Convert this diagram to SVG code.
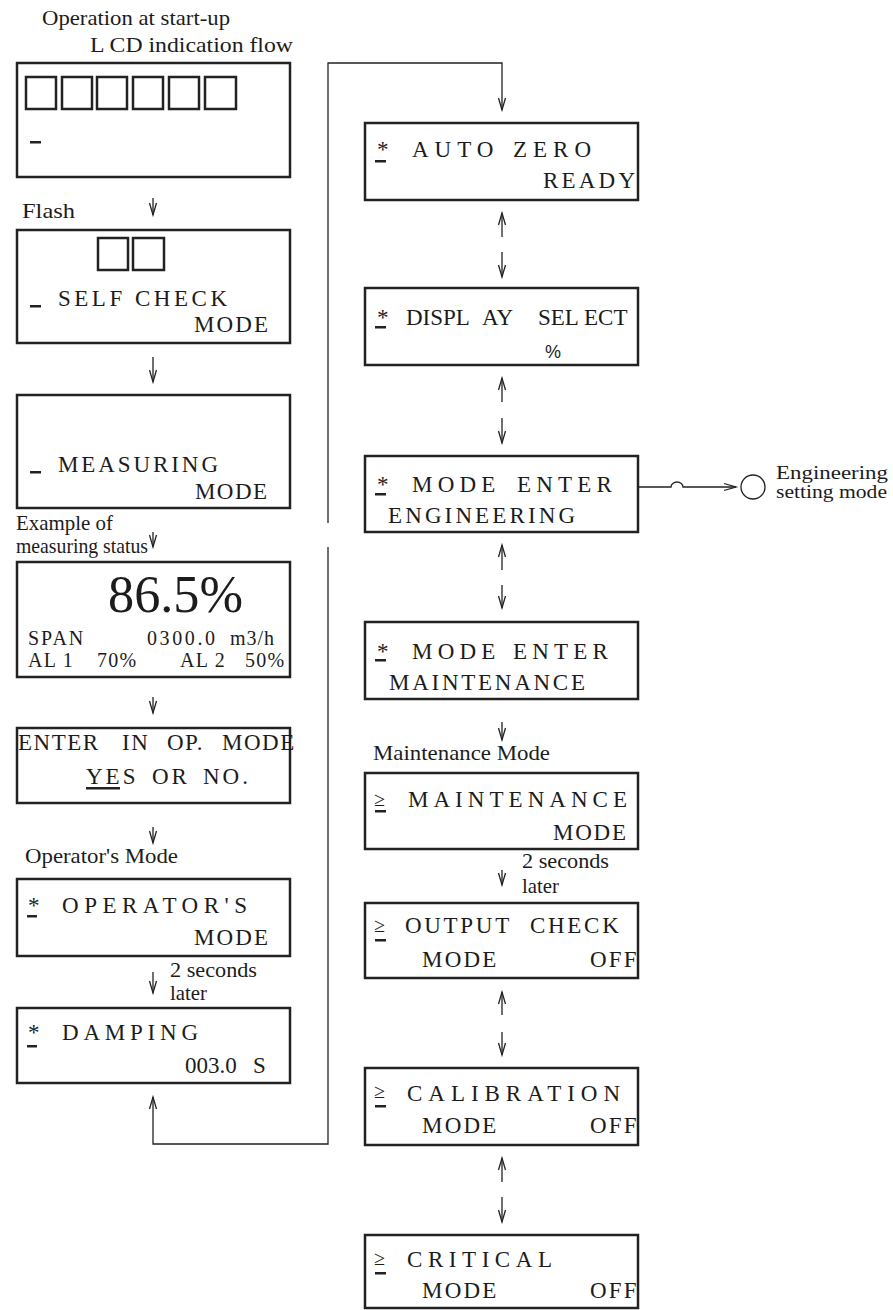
<svg xmlns="http://www.w3.org/2000/svg" width="893" height="1310" viewBox="0 0 893 1310">
<style>
.box{fill:#fff;stroke:#222;stroke-width:2.5}
.sq{fill:none;stroke:#222;stroke-width:2.5}
.t{font-family:"Liberation Serif","Times New Roman",serif;font-size:23px;fill:#1c1c1c}
.l{font-family:"Liberation Serif","Times New Roman",serif;font-size:22px;fill:#1c1c1c}
.s{font-family:"Liberation Sans",Arial,sans-serif;font-size:18px;fill:#1c1c1c}
.d{fill:#222}
.a{fill:none;stroke:#222;stroke-width:1.3;marker-end:url(#ah)}
</style>
<defs>
<marker id="ah" markerUnits="userSpaceOnUse" markerWidth="16" markerHeight="10" viewBox="-14 -5 16 10" refX="0" refY="0" orient="auto" overflow="visible">
<path d="M-12,-3.5 L0,0 L-12,3.5" fill="none" stroke="#222" stroke-width="1.3"/>
</marker>
</defs>

<g id="labels">
<text class="l" x="42" y="25" textLength="188" lengthAdjust="spacingAndGlyphs">Operation at start-up</text>
<text class="l" x="90" y="52" textLength="203" lengthAdjust="spacingAndGlyphs">L CD indication flow</text>
<text class="l" x="22" y="218" textLength="53" lengthAdjust="spacingAndGlyphs">Flash</text>
<text class="l" x="16" y="530" textLength="97" lengthAdjust="spacingAndGlyphs">Example of</text>
<text class="l" x="16" y="553" textLength="132" lengthAdjust="spacingAndGlyphs">measuring status</text>
<text class="l" x="25" y="863" textLength="153" lengthAdjust="spacingAndGlyphs">Operator's Mode</text>
<text class="l" x="170" y="977" textLength="87" lengthAdjust="spacingAndGlyphs">2 seconds</text>
<text class="l" x="170" y="1000" textLength="37" lengthAdjust="spacingAndGlyphs">later</text>
<text class="l" x="373" y="760" textLength="177" lengthAdjust="spacingAndGlyphs">Maintenance Mode</text>
<text class="l" x="522" y="868" textLength="87" lengthAdjust="spacingAndGlyphs">2 seconds</text>
<text class="l" x="522" y="893" textLength="37" lengthAdjust="spacingAndGlyphs">later</text>
</g>

<g id="connectors">
<path class="a" d="M153,198 V215"/>
<path class="a" d="M153,357 V382"/>
<path class="a" d="M153,532 V547"/>
<path class="a" d="M153,697 V713"/>
<path class="a" d="M153,827 V843"/>
<path class="a" d="M153,972 V993"/>
<path class="a" d="M328,523 V63 H502 V110"/>
<path class="a" d="M328,547 V1144 H153 V1097"/>
<path class="a" d="M502,237 V213"/>
<path class="a" d="M502,252 V277"/>
<path class="a" d="M502,402 V378"/>
<path class="a" d="M502,418 V443"/>
<path class="a" d="M502,570 V545"/>
<path class="a" d="M502,585 V608"/>
<path class="a" d="M502,722 V740"/>
<path class="a" d="M502,870 V885"/>
<path class="a" d="M502,1015 V992"/>
<path class="a" d="M502,1032 V1055"/>
<path class="a" d="M502,1182 V1158"/>
<path class="a" d="M502,1197 V1222"/>
<path class="a" d="M638,487 H671 A6,5 0 0 1 683,487 H736"/>
</g>

<g id="n-startup">
<rect class="box" x="17" y="63" width="273" height="114"/>
<rect class="sq" x="26" y="77" width="30" height="32"/>
<rect class="sq" x="62" y="77" width="30" height="32"/>
<rect class="sq" x="97" y="77" width="30" height="32"/>
<rect class="sq" x="133" y="77" width="30" height="32"/>
<rect class="sq" x="169" y="77" width="30" height="32"/>
<rect class="sq" x="205" y="77" width="31" height="32"/>
<rect class="d" x="30" y="141" width="11" height="2.5"/>
</g>

<g id="n-selfcheck">
<rect class="box" x="17" y="230" width="273" height="113"/>
<rect class="sq" x="98" y="238" width="30" height="32"/>
<rect class="sq" x="133" y="238" width="31" height="32"/>
<rect class="d" x="30" y="305" width="11" height="2.5"/>
<text class="t" x="58" y="306" textLength="169" lengthAdjust="spacing">SELF CHECK</text>
<text class="t" x="194" y="332" textLength="74" lengthAdjust="spacing">MODE</text>
</g>

<g id="n-measuring">
<rect class="box" x="17" y="395" width="273" height="113"/>
<rect class="d" x="30" y="471" width="11" height="2.5"/>
<text class="t" x="58" y="472" textLength="160" lengthAdjust="spacing">MEASURING</text>
<text class="t" x="195" y="499" textLength="72" lengthAdjust="spacing">MODE</text>
</g>

<g id="n-status">
<rect class="box" x="17" y="562" width="273" height="115"/>
<text class="t" x="108" y="612" style="font-size:53px" textLength="135" lengthAdjust="spacingAndGlyphs">86.5%</text>
<text class="t" x="28" y="645" style="font-size:20px;letter-spacing:2px">SPAN <tspan x="147" style="letter-spacing:2.6px">0300.0</tspan> <tspan x="230" style="letter-spacing:1px">m3/h</tspan></text>
<text class="t" x="28" y="667" style="font-size:20px;letter-spacing:1.3px">AL 1 <tspan x="97">70%</tspan> <tspan x="180">AL 2</tspan> <tspan x="245">50%</tspan></text>
</g>

<g id="n-enter-op">
<rect class="box" x="17" y="728" width="273" height="75"/>
<text class="t" x="18" y="750" style="letter-spacing:1.5px">ENTER <tspan x="122">IN</tspan> <tspan x="167">OP.</tspan> <tspan x="222">MODE</tspan></text>
<text class="t" x="86" y="784" style="letter-spacing:3px">YES <tspan x="152">OR</tspan> <tspan x="203">NO.</tspan></text>
<rect class="d" x="86" y="787" width="34" height="2.5"/>
</g>

<g id="n-operator">
<rect class="box" x="17" y="879" width="273" height="77"/>
<text class="t" x="28" y="913">*</text>
<rect class="d" x="27" y="915" width="10" height="2.5"/>
<text class="t" x="62" y="913" textLength="185" lengthAdjust="spacing">OPERATOR'S</text>
<text class="t" x="194" y="945" textLength="74" lengthAdjust="spacing">MODE</text>
</g>

<g id="n-damping">
<rect class="box" x="17" y="1008" width="273" height="75"/>
<text class="t" x="28" y="1040">*</text>
<rect class="d" x="27" y="1045" width="10" height="2.5"/>
<text class="t" x="62" y="1040" textLength="136" lengthAdjust="spacing">DAMPING</text>
<text class="t" x="185" y="1073">003.0 <tspan x="253">S</tspan></text>
</g>

<g id="n-autozero">
<rect class="box" x="365" y="123" width="273" height="77"/>
<text class="t" x="377" y="157">*</text>
<rect class="d" x="375" y="160" width="11" height="2.5"/>
<text class="t" x="412" y="157" style="letter-spacing:6px">AUTO <tspan x="513">ZERO</tspan></text>
<text class="t" x="543" y="188" textLength="92" lengthAdjust="spacing">READY</text>
</g>

<g id="n-display">
<rect class="box" x="365" y="288" width="273" height="77"/>
<text class="t" x="377" y="325">*</text>
<rect class="d" x="375" y="326" width="11" height="2.5"/>
<text class="t" x="406" y="325">DISPL <tspan x="482">AY</tspan> <tspan x="538">SEL</tspan> <tspan x="584">ECT</tspan></text>
<text class="s" x="545" y="358">%</text>
</g>

<g id="n-engineering">
<rect class="box" x="365" y="456" width="273" height="76"/>
<text class="t" x="377" y="492">*</text>
<rect class="d" x="375" y="493" width="11" height="2.5"/>
<text class="t" x="412" y="492" style="letter-spacing:5.2px">MODE <tspan x="517">ENTER</tspan></text>
<text class="t" x="388" y="523" textLength="187" lengthAdjust="spacing">ENGINEERING</text>
</g>

<g id="n-eng-target">
<circle cx="753" cy="487" r="12" fill="none" stroke="#222" stroke-width="1.3"/>
<text class="l" x="776" y="479" style="font-size:19px" textLength="112" lengthAdjust="spacingAndGlyphs">Engineering</text>
<text class="l" x="776" y="498" style="font-size:19px" textLength="111" lengthAdjust="spacingAndGlyphs">setting mode</text>
</g>

<g id="n-maint-enter">
<rect class="box" x="365" y="622" width="273" height="77"/>
<text class="t" x="377" y="659">*</text>
<rect class="d" x="375" y="659" width="11" height="2.5"/>
<text class="t" x="412" y="659" style="letter-spacing:5.2px">MODE <tspan x="513">ENTER</tspan></text>
<text class="t" x="389" y="690" textLength="196" lengthAdjust="spacing">MAINTENANCE</text>
</g>

<g id="n-maint-mode">
<rect class="box" x="365" y="773" width="273" height="76"/>
<text class="t" x="374" y="806" style="font-size:20px">≥</text>
<rect class="d" x="375" y="810" width="11" height="2.5"/>
<text class="t" x="408" y="807" textLength="219" lengthAdjust="spacing">MAINTENANCE</text>
<text class="t" x="553" y="840" textLength="73" lengthAdjust="spacing">MODE</text>
</g>

<g id="n-output">
<rect class="box" x="365" y="903" width="273" height="75"/>
<text class="t" x="374" y="932" style="font-size:20px">≥</text>
<rect class="d" x="375" y="939" width="11" height="2.5"/>
<text class="t" x="405" y="933" style="letter-spacing:2.7px">OUTPUT <tspan x="530">CHECK</tspan></text>
<text class="t" x="422" y="967" style="letter-spacing:2.2px">MODE <tspan x="590">OFF</tspan></text>
</g>

<g id="n-calibration">
<rect class="box" x="365" y="1068" width="273" height="77"/>
<text class="t" x="374" y="1098" style="font-size:20px">≥</text>
<rect class="d" x="375" y="1105" width="11" height="2.5"/>
<text class="t" x="407" y="1101" textLength="213" lengthAdjust="spacing">CALIBRATION</text>
<text class="t" x="422" y="1133" style="letter-spacing:2.2px">MODE <tspan x="590">OFF</tspan></text>
</g>

<g id="n-critical">
<rect class="box" x="365" y="1235" width="273" height="73"/>
<text class="t" x="374" y="1265" style="font-size:20px">≥</text>
<rect class="d" x="375" y="1272" width="11" height="2.5"/>
<text class="t" x="407" y="1267" textLength="145" lengthAdjust="spacing">CRITICAL</text>
<text class="t" x="422" y="1298" style="letter-spacing:2.2px">MODE <tspan x="590">OFF</tspan></text>
</g>
</svg>
